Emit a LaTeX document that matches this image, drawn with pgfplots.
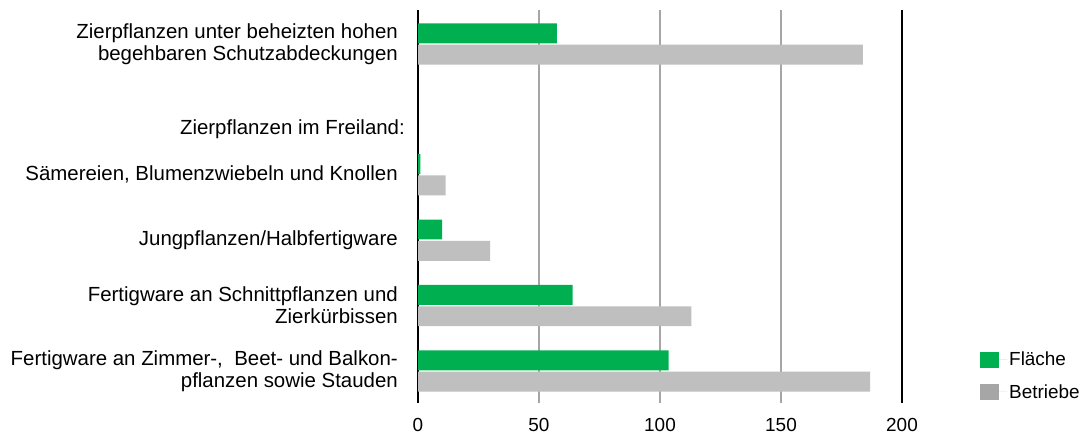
\documentclass[border=0pt]{standalone}
\usepackage{fontspec}
\setmainfont{Liberation Sans}
\usepackage{pgfplots}
\pgfplotsset{compat=1.18}
\definecolor{bargreen}{HTML}{00B050}
\definecolor{bargray}{HTML}{BFBFBF}
\definecolor{leggray}{HTML}{A6A6A6}
\definecolor{gridgray}{HTML}{A6A6A6}
\begin{document}
\begin{tikzpicture}
\path[use as bounding box] (0,0) rectangle (1091bp,441bp);
\begin{axis}[
  at={(418bp,38bp)}, anchor=south west,
  scale only axis, width=484bp, height=393bp,
  xmin=0, xmax=200, ymin=-0.49, ymax=5.52,
  xtick={0,50,100,150,200},
  /pgf/number format/assume math mode=true,
  xticklabel style={font=\fontsize{19}{22}\selectfont, inner sep=0pt, yshift=-15bp},
  ytick={0,1,2,3,5},
  yticklabels={{Fertigware an Zimmer-,\ \ Beet- und Balkon-\\pflanzen sowie Stauden},
               {Fertigware an Schnittpflanzen und\\Zierkürbissen},
               {Jungpflanzen/Halbfertigware},
               {Sämereien,\ Blumenzwiebeln und Knollen},
               {Zierpflanzen unter beheizten hohen\\begehbaren Schutzabdeckungen}},
  yticklabel style={font=\fontsize{20.5}{22}\selectfont, align=right, inner sep=0pt, xshift=-20bp},
  extra y ticks={3.69},
  extra y tick labels={Zierpflanzen im Freiland:},
  extra y tick style={yticklabel style={xshift=7bp}},
  major tick length=0pt,
  separate axis lines,
  x axis line style={draw=none},
  y axis line style={black, line width=1.6bp},
  xmajorgrids, ymajorgrids=false,
  major grid style={gridgray, line width=1.4bp},
  xbar, bar width=0.305,
  legend style={draw=none, at={(axis description cs:1.155,0.14)}, anchor=north west,
    font=\fontsize{19}{22}\selectfont, row sep=13bp, cells={anchor=west}},
  legend image code/.code={\fill[#1] (0bp,-8bp) rectangle (19bp,8bp); \path (19bp,0) -- (27bp,0);},
]
\addplot[fill=bargreen, draw=none, bar shift=0.163, forget plot]
  coordinates {(57.4,5) (1,3) (10,2) (63.9,1) (103.6,0)};
\addplot[fill=bargray, draw=none, bar shift=-0.163, forget plot]
  coordinates {(183.8,5) (11.4,3) (29.8,2) (113,1) (186.8,0)};
\addlegendimage{fill=bargreen, draw=none}
\addlegendentry{Fläche}
\addlegendimage{fill=leggray, draw=none}
\addlegendentry{Betriebe}
\end{axis}
\end{tikzpicture}
\end{document}
